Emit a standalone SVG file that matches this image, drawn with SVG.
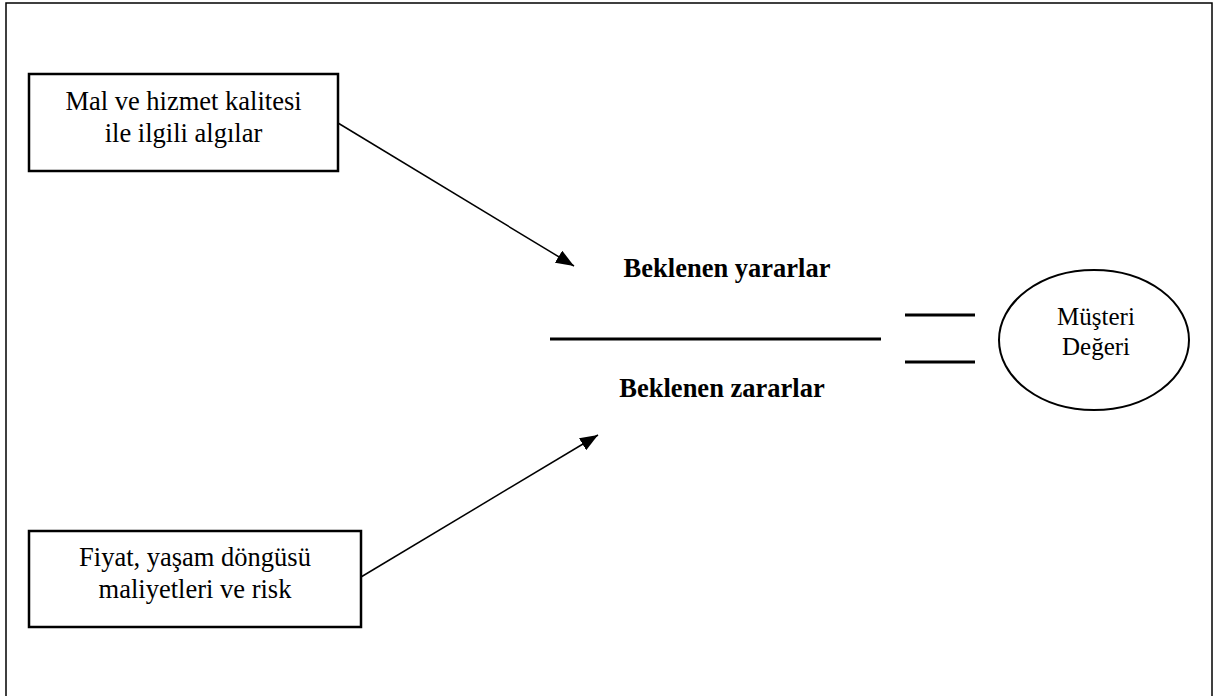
<svg xmlns="http://www.w3.org/2000/svg" width="1226" height="696" viewBox="0 0 1226 696">
<style>
.box{fill:#fff;stroke:#000;stroke-width:2.5}
.t{font-family:"Liberation Serif","Times New Roman",serif;font-size:26.5px;fill:#000;text-anchor:middle}
.b{font-weight:bold}
.ln{stroke:#000;stroke-width:1.5;fill:none}
.thick{stroke:#000;stroke-width:3;fill:none}
</style>
<defs>
<marker id="ah" viewBox="0 0 10 10" refX="10" refY="5" markerWidth="18" markerHeight="14" markerUnits="userSpaceOnUse" orient="auto" preserveAspectRatio="none">
<path d="M0,0 L10,5 L0,10 Z" fill="#000"/>
</marker>
</defs>
<rect x="0" y="0" width="1226" height="696" fill="#fff"/>
<rect id="frame" x="6" y="3" width="1206" height="700" fill="none" stroke="#000" stroke-width="1.5"/>
<g id="node-kalite">
<rect class="box" x="29" y="74" width="309" height="97"/>
<text class="t" x="183.5" y="110">Mal ve hizmet kalitesi</text>
<text class="t" x="183.5" y="142">ile ilgili algılar</text>
</g>
<g id="node-fiyat">
<rect class="box" x="29" y="531" width="332" height="96"/>
<text class="t" x="195" y="566">Fiyat, yaşam döngüsü</text>
<text class="t" x="195" y="598">maliyetleri ve risk</text>
</g>
<g id="node-oran">
<text class="t b" x="727" y="277">Beklenen yararlar</text>
<line class="thick" x1="550" y1="339" x2="881" y2="339"/>
<text class="t b" x="722" y="397">Beklenen zararlar</text>
</g>
<g id="node-deger">
<ellipse cx="1094" cy="340" rx="95" ry="70" fill="#fff" stroke="#000" stroke-width="2"/>
<text class="t" x="1096" y="325" style="font-size:25px">Müşteri</text>
<text class="t" x="1096" y="355" style="font-size:25px">Değeri</text>
</g>
<g id="connectors">
<line class="ln" x1="338" y1="123" x2="574" y2="266" marker-end="url(#ah)"/>
<line class="ln" x1="361" y1="577" x2="598" y2="435" marker-end="url(#ah)"/>
<line class="thick" x1="905" y1="315" x2="975" y2="315"/>
<line class="thick" x1="905" y1="362" x2="975" y2="362"/>
</g>
</svg>
